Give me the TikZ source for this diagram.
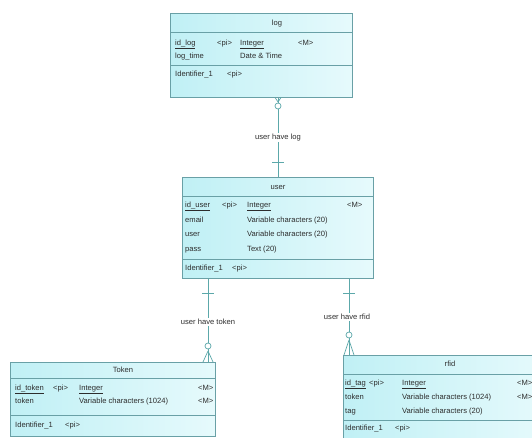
\documentclass[tikz,border=0pt]{standalone}
\usepackage{fontspec}
\setmainfont{Liberation Sans}
\definecolor{tabL}{RGB}{192,240,245}
\definecolor{tabR}{RGB}{230,250,252}
\definecolor{tabline}{RGB}{105,160,166}
\definecolor{conn}{RGB}{92,168,170}
\definecolor{txtc}{RGB}{45,45,45}
\begin{document}
\begin{tikzpicture}[x=1pt,y=-1pt,
  font=\fontsize{7.6}{9}\selectfont,
  tbl/.style={draw=tabline, line width=0.8pt, left color=tabL, right color=tabR,
    anchor=north west, inner sep=0, rectangle},
  sepline/.style={draw=tabline, line width=0.7pt},
  cell/.style={anchor=mid west, inner sep=0, text=txtc},
  ttl/.style={anchor=mid, inner sep=0, text=txtc},
  rel/.style={draw=conn, line width=0.7pt},
  circ/.style={circle, draw=conn, line width=0.7pt, fill=white, inner sep=0, minimum size=6pt},
  rlabel/.style={fill=white, inner sep=1pt, text=txtc, anchor=mid}]
\useasboundingbox (0,0) rectangle (532,438);
\fill[white] (0,0) rectangle (532,438);
\clip (0,0) rectangle (532,438);

% ---------- log ----------
\node[tbl, minimum width=182pt, minimum height=84pt] (log) at (170,13) {};
\draw[sepline] (log.west |- 0,32) -- (log.east |- 0,32);
\draw[sepline] (log.west |- 0,65) -- (log.east |- 0,65);
\node[ttl] (logt) at (277,23) {log};
\node[cell] (l11) at (175,43) {\underline{id\_log}};
\node[cell] (l12) at (217,43) {<pi>};
\node[cell] (l13) at (240,43) {\underline{Integer}};
\node[cell] (l14) at (298,43) {<M>};
\node[cell] (l21) at (175,56) {log\_time};
\node[cell] (l23) at (240,56) {Date \& Time};
\node[cell] (l31) at (175,74) {Identifier\_1};
\node[cell] (l32) at (227,74) {<pi>};

% ---------- user ----------
\node[tbl, minimum width=191pt, minimum height=101pt] (usr) at (182,177) {};
\draw[sepline] (usr.west |- 0,196) -- (usr.east |- 0,196);
\draw[sepline] (usr.west |- 0,259) -- (usr.east |- 0,259);
\node[ttl] (usrt) at (278,187) {user};
\node[cell] (u11) at (185,205) {\underline{id\_user}};
\node[cell] (u12) at (222,205) {<pi>};
\node[cell] (u13) at (247,205) {\underline{Integer}};
\node[cell] (u14) at (347,205) {<M>};
\node[cell] (u21) at (185,220) {email};
\node[cell] (u23) at (247,220) {Variable characters (20)};
\node[cell] (u31) at (185,234) {user};
\node[cell] (u33) at (247,234) {Variable characters (20)};
\node[cell] (u41) at (185,249) {pass};
\node[cell] (u43) at (247,249) {Text (20)};
\node[cell] (u51) at (185,268) {Identifier\_1};
\node[cell] (u52) at (232,268) {<pi>};

% ---------- Token ----------
\node[tbl, minimum width=205pt, minimum height=74pt] (tok) at (10,362) {};
\draw[sepline] (tok.west |- 0,378) -- (tok.east |- 0,378);
\draw[sepline] (tok.west |- 0,415) -- (tok.east |- 0,415);
\node[ttl] (tokt) at (123,370) {Token};
\node[cell] (t11) at (15,388) {\underline{id\_token}};
\node[cell] (t12) at (53,388) {<pi>};
\node[cell] (t13) at (79,388) {\underline{Integer}};
\node[cell] (t14) at (198,388) {<M>};
\node[cell] (t21) at (15,401) {token};
\node[cell] (t23) at (79,401) {Variable characters (1024)};
\node[cell] (t24) at (198,401) {<M>};
\node[cell] (t31) at (15,425) {Identifier\_1};
\node[cell] (t32) at (65,425) {<pi>};

% ---------- rfid ----------
\node[tbl, minimum width=205pt, minimum height=95pt] (rf) at (343,355) {};
\draw[sepline] (rf.west |- 0,374) -- (rf.east |- 0,374);
\draw[sepline] (rf.west |- 0,420) -- (rf.east |- 0,420);
\node[ttl] (rft) at (450,364) {rfid};
\node[cell] (r11) at (345,383) {\underline{id\_tag}};
\node[cell] (r12) at (369,383) {<pi>};
\node[cell] (r13) at (402,383) {\underline{Integer}};
\node[cell] (r14) at (517,383) {<M>};
\node[cell] (r21) at (345,397) {token};
\node[cell] (r23) at (402,397) {Variable characters (1024)};
\node[cell] (r24) at (517,397) {<M>};
\node[cell] (r31) at (345,411) {tag};
\node[cell] (r33) at (402,411) {Variable characters (20)};
\node[cell] (r41) at (345,428) {Identifier\_1};
\node[cell] (r42) at (395,428) {<pi>};

% ---------- connectors ----------
\coordinate (cx1) at (278,0);
\coordinate (cx2) at (208,0);
\coordinate (cx3) at (349,0);

% user have log
\draw[rel] (log.south -| cx1) -- (usr.north -| cx1);
\draw[rel] (278,102) -- (275,97.5) (278,102) -- (281,97.5);
\node[circ] (o1) at (278,106) {};
\draw[rel] (272,162) -- (284,162);
\node[rlabel] (lb1) at (278,137) {user have log};

% user have token
\draw[rel] (usr.south -| cx2) -- (tok.north -| cx2);
\draw[rel] (202,293) -- (214,293);
\node[circ] (o2) at (208,346) {};
\draw[rel] (208,351) -- (203,362) (208,351) -- (213,362);
\node[rlabel] (lb2) at (208,322) {user have token};

% user have rfid
\draw[rel] (usr.south -| cx3) -- (rf.north -| cx3);
\draw[rel] (343,293) -- (355,293);
\node[circ] (o3) at (349,335) {};
\draw[rel] (349,340) -- (344,355) (349,340) -- (354,355);
\node[rlabel] (lb3) at (347,317) {user have rfid};
\end{tikzpicture}
\end{document}
